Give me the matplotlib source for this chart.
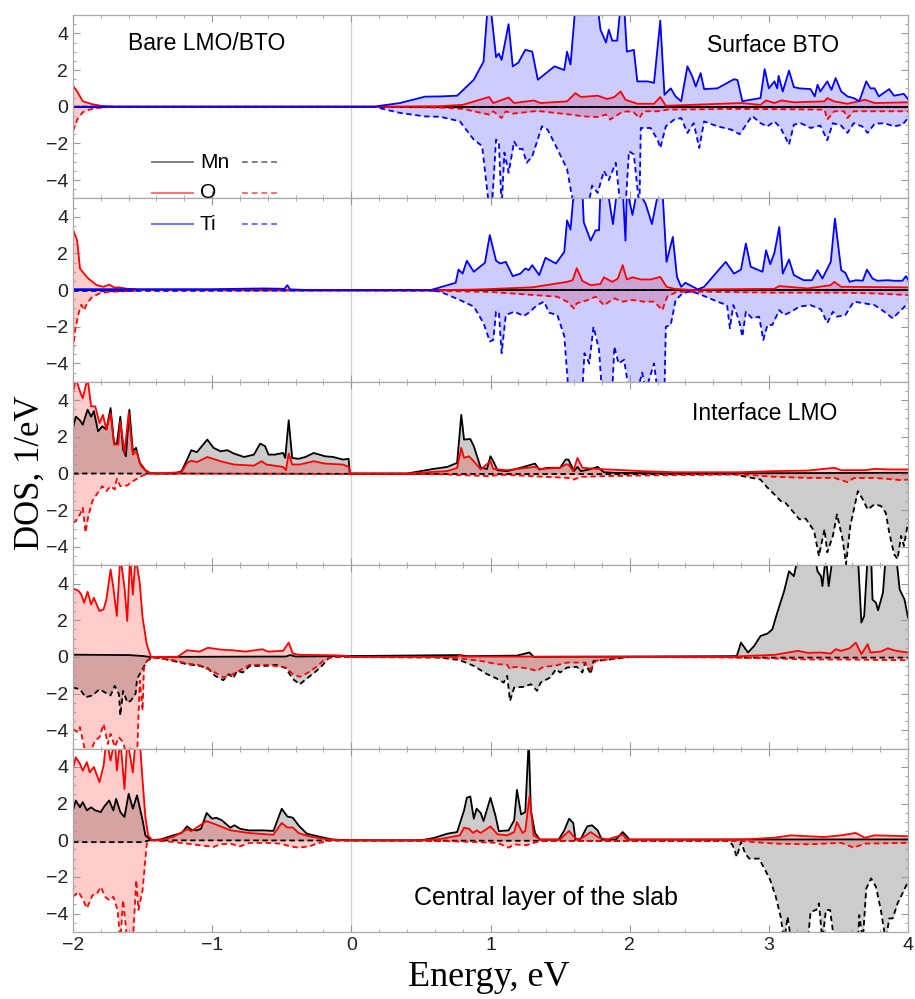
import matplotlib
matplotlib.use("Agg")
import matplotlib.pyplot as plt
from matplotlib.lines import Line2D
from matplotlib.ticker import MultipleLocator

# ---- Surface BTO (panel 1) ----
surf_mn = [(-2.0, 0.0), (4.0, 0.0)]
surf_o_up = [(-2.0, 1.14), (-1.97, 0.83), (-1.93, 0.3), (-1.87, 0.15), (-1.8, 0.05), (-1.7, 0.0), (0.16, 0.0),
             (0.64, 0.03), (0.8, 0.1), (0.99, 0.53), (1.02, 0.2), (1.13, 0.5), (1.17, 0.2), (1.31, 0.34),
             (1.36, 0.2), (1.55, 0.29), (1.61, 0.74), (1.65, 0.53), (1.77, 0.6), (1.84, 0.42), (1.89, 0.53),
             (1.935, 0.83), (1.97, 0.38), (2.055, 0.16), (2.175, 0.16), (2.22, 0.53), (2.26, 0.05), (2.44, 0.1),
             (2.8, 0.2), (2.94, 0.1), (2.98, 0.34), (3.04, 0.2), (3.09, 0.34), (3.18, 0.24), (3.4, 0.29),
             (3.42, 0.47), (3.47, 0.29), (3.565, 0.16), (3.69, 0.38), (3.76, 0.2), (4.0, 0.24)]
surf_o_dn = [(-2.0, -1.34), (-1.97, -0.7), (-1.93, -0.3), (-1.88, -0.15), (-1.8, -0.05), (-1.7, 0.0), (0.16, 0.0),
             (0.64, -0.05), (0.8, -0.12), (0.99, -0.43), (1.02, -0.25), (1.08, -0.62), (1.11, -0.25), (1.16, -0.38),
             (1.31, -0.25), (1.36, -0.25), (1.575, -0.43), (1.67, -0.53), (1.77, -0.56), (1.83, -0.43),
             (1.86, -0.7), (1.935, -0.34), (1.98, -0.25), (2.03, -0.31), (2.07, -0.62), (2.1, -0.25), (2.2, -0.25),
             (2.27, -0.16), (2.8, -0.12), (3.4, -0.16), (3.42, -0.7), (3.47, -0.25), (3.54, -0.25), (3.565, -0.62),
             (3.61, -0.25), (4.0, -0.25)]
surf_ti_up = [(-2.0, 0.0), (0.16, 0.0), (0.35, 0.2), (0.53, 0.55), (0.64, 0.56), (0.76, 0.6), (0.78, 0.74),
              (0.88, 1.47), (0.95, 2.46), (0.98, 5.5), (1.0, 5.5), (1.04, 2.7), (1.06, 2.9), (1.08, 2.55),
              (1.13, 4.5), (1.16, 2.2), (1.2, 2.4), (1.25, 3.1), (1.3, 3.0), (1.34, 1.47), (1.46, 2.2), (1.53, 2.0),
              (1.55, 3.0), (1.575, 2.3), (1.61, 5.5), (1.77, 5.5), (1.79, 4.2), (1.83, 3.5), (1.85, 4.2),
              (1.875, 3.6), (1.91, 3.6), (1.935, 5.5), (1.96, 5.5), (1.98, 3.0), (2.03, 3.1), (2.055, 1.38),
              (2.13, 1.38), (2.175, 1.3), (2.22, 4.7), (2.25, 0.65), (2.295, 1.0), (2.33, 0.56), (2.37, 0.3),
              (2.415, 2.2), (2.45, 1.65), (2.475, 1.1), (2.51, 1.83), (2.535, 0.96), (2.63, 1.0), (2.75, 1.5),
              (2.775, 1.45), (2.81, 0.3), (2.94, 0.47), (2.97, 2.05), (3.0, 1.0), (3.04, 1.38), (3.06, 1.0),
              (3.07, 1.68), (3.1, 0.83), (3.145, 1.97), (3.18, 1.07), (3.22, 1.0), (3.3, 0.96), (3.33, 0.56),
              (3.35, 1.2), (3.37, 0.83), (3.42, 1.38), (3.45, 0.92), (3.48, 1.56), (3.52, 0.83), (3.565, 0.56),
              (3.61, 0.47), (3.65, 0.3), (3.7, 1.38), (3.73, 1.0), (3.76, 1.0), (3.79, 0.56), (3.865, 0.96),
              (3.9, 0.6), (3.97, 0.7), (4.0, 0.42)]
surf_ti_dn = [(-2.0, 0.0), (0.16, 0.0), (0.35, -0.34), (0.53, -0.53), (0.64, -0.55), (0.78, -0.8), (0.88, -1.8),
              (0.94, -2.15), (0.99, -5.5), (1.01, -5.5), (1.04, -1.8), (1.06, -1.9), (1.08, -5.5), (1.1, -2.5),
              (1.13, -3.6), (1.17, -1.9), (1.2, -2.3), (1.23, -2.3), (1.26, -3.06), (1.3, -2.7), (1.37, -1.07),
              (1.41, -1.25), (1.47, -2.15), (1.55, -3.4), (1.6, -5.5), (1.7, -5.5), (1.73, -4.3), (1.77, -4.7),
              (1.815, -3.5), (1.85, -4.0), (1.9, -3.06), (1.935, -5.5), (1.97, -5.5), (1.995, -2.43), (2.03, -2.6),
              (2.07, -5.5), (2.08, -1.16), (2.15, -1.16), (2.2, -1.8), (2.22, -2.25), (2.26, -1.07), (2.32, -0.7),
              (2.37, -0.62), (2.415, -1.43), (2.46, -0.9), (2.5, -2.25), (2.535, -0.8), (2.63, -1.07),
              (2.73, -1.25), (2.79, -1.5), (2.88, -0.5), (2.94, -0.9), (2.99, -1.07), (3.04, -0.8), (3.085, -1.16),
              (3.145, -2.07), (3.18, -0.98), (3.23, -0.9), (3.3, -1.16), (3.37, -1.03), (3.42, -1.83), (3.46, -0.9),
              (3.52, -1.03), (3.565, -1.43), (3.61, -0.9), (3.67, -1.07), (3.71, -1.43), (3.76, -0.93),
              (3.83, -0.9), (3.9, -1.07), (3.96, -0.98), (4.0, -0.62)]

# ---- BTO layer below the surface (panel 2) ----
sub_mn = [(-2.0, 0.0), (4.0, 0.0)]
sub_o_up = [(-2.0, 3.3), (-1.97, 2.7), (-1.95, 1.18), (-1.91, 0.8), (-1.89, 0.63), (-1.86, 0.45), (-1.83, 0.27),
            (-1.78, 0.18), (-1.74, 0.3), (-1.7, 0.13), (-1.67, 0.15), (-1.61, 0.07), (-1.56, 0.05), (-1.52, 0.0),
            (0.64, 0.0), (0.9, 0.03), (1.3, 0.15), (1.55, 0.45), (1.59, 0.54), (1.62, 1.2), (1.66, 0.5),
            (1.72, 0.27), (1.79, 0.33), (1.815, 0.7), (1.875, 0.45), (1.915, 0.63), (1.95, 1.36), (1.98, 0.58),
            (2.02, 0.7), (2.08, 0.58), (2.15, 0.58), (2.22, 0.72), (2.265, 0.18), (2.32, 0.07), (2.46, 0.0),
            (2.56, 0.04), (3.04, 0.07), (3.075, 0.22), (3.28, 0.09), (3.445, 0.27), (3.47, 0.45), (3.52, 0.18),
            (4.0, 0.15)]
sub_o_dn = [(-2.0, -3.3), (-1.985, -2.2), (-1.96, -1.27), (-1.94, -0.8), (-1.92, -1.1), (-1.9, -0.72),
            (-1.86, -0.36), (-1.8, -0.15), (-1.72, -0.09), (-1.56, -0.04), (-1.52, 0.0), (0.64, -0.05), (1.0, -0.1),
            (1.48, -0.36), (1.55, -0.63), (1.6, -1.0), (1.62, -0.72), (1.7, -0.54), (1.755, -0.36), (1.815, -0.82),
            (1.89, -0.45), (1.95, -0.63), (2.02, -0.54), (2.1, -0.63), (2.175, -0.63), (2.235, -1.09),
            (2.27, -0.36), (2.34, -0.09), (2.56, -0.09), (3.04, -0.14), (3.52, -0.14), (3.76, -0.18), (4.0, -0.27)]
sub_ti_up = [(-2.0, 0.05), (-1.0, 0.05), (-0.63, 0.09), (-0.48, 0.07), (-0.46, 0.27), (-0.44, 0.04), (-0.3, 0.0),
             (0.57, 0.0), (0.75, 0.4), (0.77, 1.12), (0.8, 0.9), (0.83, 1.6), (0.88, 1.0), (0.96, 1.49),
             (0.995, 3.0), (1.04, 1.6), (1.07, 1.45), (1.11, 1.54), (1.16, 0.76), (1.215, 0.9), (1.25, 1.18),
             (1.275, 1.09), (1.3, 1.36), (1.35, 0.82), (1.395, 1.76), (1.47, 1.45), (1.53, 2.08), (1.55, 3.8),
             (1.575, 3.3), (1.6, 5.5), (1.66, 5.5), (1.67, 3.7), (1.72, 2.7), (1.755, 3.26), (1.78, 3.26),
             (1.79, 5.5), (1.84, 5.5), (1.88, 3.6), (1.91, 5.5), (1.95, 5.5), (1.97, 2.7), (1.98, 5.5), (2.02, 4.1),
             (2.055, 5.5), (2.115, 4.7), (2.16, 3.6), (2.21, 5.5), (2.235, 5.5), (2.265, 1.54), (2.31, 2.9),
             (2.34, 0.72), (2.37, 0.18), (2.4, 0.4), (2.49, 0.04), (2.535, 0.18), (2.69, 1.54), (2.75, 0.9),
             (2.8, 1.12), (2.835, 2.54), (2.87, 1.27), (2.955, 1.0), (2.98, 2.17), (3.01, 1.41), (3.04, 2.03),
             (3.075, 3.44), (3.1, 0.9), (3.145, 1.67), (3.18, 0.82), (3.25, 0.54), (3.31, 0.54), (3.35, 1.09),
             (3.385, 0.63), (3.445, 1.54), (3.475, 3.9), (3.52, 1.09), (3.55, 0.94), (3.58, 0.45), (3.625, 0.54),
             (3.675, 0.51), (3.705, 1.12), (3.745, 0.63), (3.78, 0.51), (3.855, 0.54), (3.9, 0.51), (3.96, 0.51),
             (3.985, 0.76), (4.0, 0.58)]
sub_ti_dn = [(-2.0, -0.05), (0.57, -0.02), (0.64, -0.09), (0.78, -0.54), (0.88, -0.9), (0.95, -1.8),
             (0.995, -2.8), (1.02, -2.72), (1.04, -1.18), (1.06, -1.18), (1.08, -3.44), (1.11, -1.36),
             (1.17, -1.18), (1.24, -1.41), (1.275, -1.23), (1.335, -0.82), (1.385, -0.63), (1.42, -1.23),
             (1.48, -1.36), (1.53, -2.5), (1.56, -5.5), (1.66, -5.5), (1.675, -3.44), (1.71, -4.0), (1.74, -2.0),
             (1.78, -3.26), (1.8, -5.5), (1.875, -5.5), (1.89, -3.08), (1.92, -4.0), (1.96, -3.8), (1.995, -5.5),
             (2.055, -5.5), (2.09, -4.5), (2.115, -5.5), (2.175, -4.0), (2.2, -5.5), (2.25, -5.5), (2.26, -2.0),
             (2.295, -1.9), (2.33, -0.54), (2.38, -0.18), (2.44, -0.05), (2.5, -0.22), (2.56, -0.4), (2.63, -0.63),
             (2.7, -0.82), (2.72, -2.08), (2.745, -0.82), (2.785, -1.63), (2.81, -2.54), (2.835, -1.18),
             (2.88, -1.54), (2.93, -1.45), (2.96, -2.72), (2.99, -1.9), (3.025, -1.9), (3.075, -1.09),
             (3.11, -1.36), (3.16, -1.18), (3.22, -0.9), (3.3, -0.82), (3.375, -1.05), (3.42, -1.8), (3.46, -1.18),
             (3.49, -1.45), (3.55, -1.36), (3.61, -0.63), (3.685, -0.72), (3.76, -0.82), (3.83, -1.18),
             (3.89, -1.54), (3.95, -1.09), (4.0, -0.72)]

# ---- Interface LMO (panel 3) ----
intf_mn_up = [(-2.0, 2.48), (-1.98, 3.1), (-1.95, 2.9), (-1.93, 2.66), (-1.895, 3.48), (-1.87, 3.1), (-1.85, 3.4),
              (-1.82, 2.3), (-1.79, 2.57), (-1.76, 2.4), (-1.73, 3.57), (-1.705, 1.67), (-1.685, 1.6),
              (-1.66, 3.1), (-1.64, 1.3), (-1.62, 0.94), (-1.595, 3.48), (-1.57, 1.21), (-1.547, 1.4),
              (-1.52, 0.58), (-1.48, 0.18), (-1.45, 0.04), (-1.4, 0.0), (-1.27, 0.0), (-1.22, 0.13), (-1.18, 0.76),
              (-1.15, 1.27), (-1.11, 1.16), (-1.035, 1.85), (-0.99, 1.4), (-0.94, 1.21), (-0.89, 1.27),
              (-0.845, 1.09), (-0.77, 0.9), (-0.7, 1.03), (-0.655, 1.63), (-0.62, 1.49), (-0.595, 1.03),
              (-0.55, 1.03), (-0.49, 1.12), (-0.475, 0.85), (-0.45, 2.9), (-0.425, 0.85), (-0.38, 0.8),
              (-0.33, 0.9), (-0.27, 1.12), (-0.19, 0.94), (-0.13, 0.9), (-0.06, 0.76), (-0.02, 0.8), (-0.01, 0.0),
              (0.4, 0.0), (0.59, 0.25), (0.69, 0.36), (0.76, 0.58), (0.79, 3.2), (0.81, 1.85), (0.855, 1.88),
              (0.88, 1.49), (0.93, 0.31), (0.975, 0.25), (1.0, 0.94), (1.02, 0.67), (1.05, 0.18), (1.12, 0.13),
              (1.215, 0.31), (1.32, 0.54), (1.35, 0.22), (1.41, 0.31), (1.5, 0.31), (1.54, 0.76), (1.56, 0.76),
              (1.6, 0.13), (1.625, 0.36), (1.65, 0.13), (1.71, 0.22), (1.77, 0.36), (1.815, 0.07), (1.89, 0.04),
              (2.3, 0.0), (4.0, 0.04)]
intf_mn_dn = [(-2.0, 0.0), (2.75, -0.04), (2.81, -0.14), (2.94, -0.33), (2.98, -0.69), (3.04, -1.14),
              (3.085, -1.5), (3.12, -1.6), (3.17, -2.05), (3.22, -2.5), (3.265, -2.46), (3.325, -3.13),
              (3.36, -4.5), (3.4, -3.04), (3.42, -4.3), (3.46, -3.4), (3.49, -2.23), (3.53, -3.6), (3.555, -4.95),
              (3.585, -2.86), (3.64, -0.96), (3.675, -1.41), (3.71, -1.96), (3.76, -1.68), (3.805, -1.77),
              (3.84, -2.14), (3.865, -3.22), (3.9, -4.4), (3.925, -4.67), (3.95, -3.4), (3.97, -3.95), (4.0, -2.68)]
intf_o_up = [(-2.0, 4.4), (-1.98, 5.2), (-1.95, 4.47), (-1.93, 4.1), (-1.895, 5.2), (-1.87, 3.66), (-1.84, 3.66),
             (-1.81, 2.75), (-1.785, 3.2), (-1.76, 2.4), (-1.73, 3.3), (-1.705, 1.58), (-1.675, 1.58),
             (-1.66, 2.84), (-1.63, 1.12), (-1.6, 3.3), (-1.57, 1.03), (-1.545, 1.21), (-1.51, 0.4), (-1.46, 0.04),
             (-1.4, 0.0), (-1.22, 0.07), (-1.18, 0.58), (-1.15, 0.7), (-1.11, 0.62), (-1.035, 0.9), (-0.94, 0.67),
             (-0.845, 0.49), (-0.7, 0.43), (-0.645, 0.67), (-0.61, 0.49), (-0.49, 0.36), (-0.47, 0.18),
             (-0.45, 1.09), (-0.425, 0.49), (-0.37, 0.49), (-0.27, 0.67), (-0.19, 0.54), (-0.06, 0.49),
             (-0.02, 0.36), (-0.01, 0.0), (0.4, 0.0), (0.69, 0.13), (0.76, 0.3), (0.79, 1.4), (0.81, 0.85),
             (0.845, 0.94), (0.88, 0.67), (0.93, 0.22), (1.0, 0.67), (1.02, 0.25), (1.12, 0.18), (1.32, 0.36),
             (1.36, 0.25), (1.5, 0.31), (1.54, 0.49), (1.56, 0.49), (1.595, 0.13), (1.625, 0.85), (1.66, 0.31),
             (1.77, 0.25), (1.84, 0.22), (1.96, 0.18), (2.08, 0.13), (2.32, 0.07), (2.8, 0.07), (3.04, 0.13),
             (3.28, 0.16), (3.47, 0.31), (3.52, 0.18), (3.69, 0.18), (3.76, 0.25), (3.88, 0.22), (4.0, 0.22)]
intf_o_dn = [(-2.0, -2.68), (-1.98, -2.6), (-1.95, -2.23), (-1.93, -1.87), (-1.91, -3.22), (-1.89, -2.32),
             (-1.86, -1.5), (-1.83, -1.14), (-1.79, -0.69), (-1.76, -0.96), (-1.73, -0.69), (-1.7, -0.87),
             (-1.685, -0.29), (-1.66, -0.69), (-1.61, -0.65), (-1.57, -0.42), (-1.55, -0.33), (-1.5, -0.11),
             (-1.46, -0.02), (-1.4, 0.0), (0.64, -0.04), (0.975, -0.14), (1.1, -0.07), (1.56, -0.24), (1.6, -0.33),
             (1.65, -0.18), (1.84, -0.14), (2.08, -0.11), (2.8, -0.05), (2.97, -0.14), (3.04, -0.18),
             (3.28, -0.24), (3.47, -0.24), (3.565, -0.47), (3.61, -0.25), (3.76, -0.24), (3.95, -0.36),
             (4.0, -0.33)]

# ---- LMO layer below the interface (panel 4) ----
lmo2_mn_up = [(-2.0, 0.12), (-1.6, 0.1), (-1.5, 0.05), (-1.45, 0.0), (-0.47, 0.02), (-0.44, 0.1), (-0.4, 0.02),
              (0.78, 0.1), (0.83, 0.04), (1.19, 0.07), (1.28, 0.24), (1.31, 0.0), (2.73, 0.04), (2.77, 0.05),
              (2.8, 0.78), (2.85, 0.24), (2.895, 0.6), (2.94, 1.14), (2.99, 1.27), (3.025, 1.5), (3.06, 2.4),
              (3.11, 3.59), (3.145, 4.67), (3.18, 4.4), (3.21, 5.5), (3.33, 5.5), (3.35, 4.67), (3.375, 4.4),
              (3.385, 3.86), (3.41, 5.5), (3.43, 3.86), (3.46, 5.5), (3.64, 5.5), (3.665, 1.87), (3.685, 2.23),
              (3.71, 5.5), (3.735, 5.5), (3.745, 3.13), (3.77, 2.95), (3.785, 2.54), (3.82, 3.5), (3.84, 5.5),
              (3.915, 5.5), (3.94, 3.68), (3.975, 3.13), (4.0, 2.14)]
lmo2_mn_dn = [(-2.0, -1.67), (-1.95, -1.76), (-1.91, -2.2), (-1.86, -2.1), (-1.81, -1.76), (-1.77, -1.94),
              (-1.73, -2.1), (-1.7, -1.58), (-1.67, -2.03), (-1.66, -3.2), (-1.64, -1.85), (-1.61, -2.48),
              (-1.585, -2.39), (-1.55, -2.0), (-1.54, -1.2), (-1.5, -0.67), (-1.47, -0.22), (-1.43, -0.04),
              (-1.37, -0.07), (-1.28, -0.22), (-1.18, -0.4), (-1.09, -0.49), (-1.03, -0.62), (-0.98, -1.03),
              (-0.92, -1.27), (-0.88, -0.94), (-0.85, -1.16), (-0.82, -0.76), (-0.78, -0.85), (-0.73, -0.49),
              (-0.61, -0.49), (-0.54, -0.43), (-0.47, -0.62), (-0.42, -1.21), (-0.37, -1.49), (-0.31, -1.12),
              (-0.25, -0.76), (-0.2, -0.4), (-0.16, -0.04), (-0.13, 0.0), (0.64, -0.04), (0.78, -0.18),
              (0.88, -0.49), (0.975, -0.94), (1.04, -1.16), (1.095, -1.4), (1.12, -1.03), (1.14, -2.4),
              (1.17, -1.67), (1.24, -1.63), (1.29, -1.49), (1.335, -1.85), (1.36, -1.4), (1.43, -1.12),
              (1.47, -0.67), (1.5, -0.85), (1.55, -0.58), (1.62, -0.54), (1.66, -0.85), (1.68, -0.31),
              (1.72, -0.94), (1.74, -0.22), (1.815, -0.18), (1.91, -0.09), (2.01, 0.0), (2.7, 0.0), (2.8, -0.04),
              (4.0, -0.04)]
lmo2_o_up = [(-2.0, 3.73), (-1.96, 3.6), (-1.94, 3.4), (-1.92, 2.95), (-1.895, 3.55), (-1.87, 2.86),
             (-1.85, 3.22), (-1.81, 2.5), (-1.78, 2.6), (-1.76, 3.13), (-1.73, 4.76), (-1.71, 3.77),
             (-1.685, 2.23), (-1.66, 5.5), (-1.63, 3.77), (-1.61, 1.96), (-1.59, 5.5), (-1.57, 3.4), (-1.55, 5.5),
             (-1.52, 4.0), (-1.5, 2.14), (-1.47, 0.69), (-1.44, 0.0), (-1.25, 0.0), (-1.18, 0.36), (-1.09, 0.29),
             (-1.03, 0.5), (-0.94, 0.4), (-0.85, 0.36), (-0.76, 0.29), (-0.64, 0.42), (-0.6, 0.29), (-0.49, 0.33),
             (-0.45, 0.78), (-0.42, 0.18), (-0.37, 0.11), (-0.13, 0.09), (-0.02, 0.05), (-0.01, 0.0), (0.76, 0.0),
             (0.78, 0.1), (0.8, 0.02), (2.73, 0.0), (2.8, 0.04), (3.04, 0.11), (3.14, 0.24), (3.21, 0.33),
             (3.28, 0.22), (3.375, 0.24), (3.445, 0.18), (3.48, 0.42), (3.52, 0.33), (3.58, 0.47), (3.625, 0.78),
             (3.665, 0.15), (3.71, 0.69), (3.73, 0.24), (3.805, 0.29), (3.855, 0.47), (3.9, 0.36), (3.95, 0.29),
             (4.0, 0.24)]
lmo2_o_dn = [(-2.0, -3.93), (-1.97, -4.1), (-1.95, -3.83), (-1.92, -4.9), (-1.895, -5.5), (-1.84, -4.56),
             (-1.81, -4.38), (-1.78, -3.66), (-1.75, -4.75), (-1.73, -4.2), (-1.7, -4.9), (-1.67, -4.38),
             (-1.64, -4.65), (-1.61, -5.5), (-1.58, -5.0), (-1.54, -5.5), (-1.52, -1.3), (-1.5, -2.93),
             (-1.49, -0.58), (-1.47, -0.22), (-1.43, -0.04), (-1.28, -0.18), (-1.18, -0.36), (-1.09, -0.45),
             (-0.98, -0.85), (-0.92, -1.12), (-0.85, -0.94), (-0.73, -0.43), (-0.61, -0.43), (-0.47, -0.58),
             (-0.42, -0.94), (-0.37, -1.09), (-0.31, -0.85), (-0.25, -0.54), (-0.19, -0.13), (-0.13, 0.0),
             (0.64, 0.0), (0.78, -0.09), (0.93, -0.22), (1.05, -0.4), (1.12, -0.43), (1.14, -0.67), (1.17, -0.54),
             (1.26, -0.62), (1.335, -0.76), (1.38, -0.54), (1.46, -0.49), (1.55, -0.31), (1.67, -0.31),
             (1.72, -0.67), (1.755, -0.22), (1.935, -0.04), (2.01, 0.0), (2.8, -0.04), (3.28, -0.14),
             (3.52, -0.14), (4.0, -0.18)]

# ---- Central layer of the slab (panel 5) ----
cent_mn_up = [(-2.0, 1.63), (-1.98, 2.17), (-1.95, 1.8), (-1.93, 2.08), (-1.9, 1.63), (-1.87, 1.8), (-1.84, 1.63),
              (-1.8, 1.54), (-1.78, 1.8), (-1.74, 2.17), (-1.71, 1.63), (-1.69, 2.26), (-1.66, 1.54),
              (-1.63, 1.27), (-1.6, 2.54), (-1.57, 1.72), (-1.54, 2.45), (-1.5, 1.09), (-1.48, 0.27), (-1.44, 0.0),
              (-1.37, 0.05), (-1.28, 0.27), (-1.22, 0.4), (-1.18, 0.76), (-1.15, 0.58), (-1.11, 0.54),
              (-1.08, 0.63), (-1.04, 1.49), (-1.0, 1.18), (-0.97, 1.23), (-0.93, 1.09), (-0.87, 0.69),
              (-0.84, 0.82), (-0.8, 0.63), (-0.74, 0.54), (-0.63, 0.54), (-0.56, 0.51), (-0.5, 1.72), (-0.46, 1.3),
              (-0.42, 1.23), (-0.38, 0.82), (-0.32, 0.36), (-0.22, 0.18), (-0.13, 0.04), (-0.01, 0.0), (0.5, 0.0),
              (0.59, 0.12), (0.69, 0.36), (0.76, 0.45), (0.81, 1.63), (0.83, 2.32), (0.855, 2.39), (0.88, 1.18),
              (0.9, 1.72), (0.93, 1.49), (0.95, 1.05), (1.0, 2.32), (1.035, 1.36), (1.06, 0.5), (1.13, 0.54),
              (1.17, 1.09), (1.19, 2.75), (1.22, 1.41), (1.25, 1.54), (1.275, 5.5), (1.29, 1.63), (1.32, 0.4),
              (1.355, 0.04), (1.49, 0.04), (1.53, 0.54), (1.565, 1.18), (1.595, 0.94), (1.61, 0.04), (1.65, 0.09),
              (1.695, 0.76), (1.73, 0.82), (1.77, 0.54), (1.8, 0.04), (1.9, 0.04), (1.95, 0.45), (2.0, 0.04),
              (4.0, 0.05)]
cent_mn_dn = [(-2.0, -0.1), (-1.5, -0.1), (-1.45, 0.0), (2.715, -0.04), (2.74, -0.27), (2.77, -0.9), (2.8, -0.09),
              (2.83, -0.72), (2.86, -1.0), (2.93, -1.0), (2.98, -1.72), (3.01, -2.17), (3.05, -3.08),
              (3.085, -4.17), (3.11, -5.5), (3.135, -4.17), (3.16, -5.5), (3.28, -5.5), (3.3, -3.9), (3.34, -3.8),
              (3.36, -3.44), (3.385, -5.5), (3.41, -3.8), (3.44, -3.8), (3.47, -5.5), (3.64, -5.5), (3.65, -4.08),
              (3.675, -5.5), (3.7, -2.63), (3.735, -2.08), (3.77, -2.54), (3.805, -3.8), (3.84, -5.5),
              (3.865, -4.26), (3.89, -4.26), (3.925, -3.44), (3.96, -2.9), (4.0, -2.26)]
cent_o_up = [(-2.0, 3.9), (-1.98, 4.53), (-1.95, 4.17), (-1.93, 3.8), (-1.9, 4.26), (-1.88, 3.7), (-1.85, 4.0),
             (-1.81, 3.17), (-1.78, 4.08), (-1.76, 5.5), (-1.73, 4.35), (-1.7, 5.5), (-1.685, 3.8), (-1.66, 5.5),
             (-1.63, 2.8), (-1.61, 5.5), (-1.57, 3.7), (-1.55, 5.5), (-1.52, 5.4), (-1.5, 3.26), (-1.48, 1.27),
             (-1.46, 0.27), (-1.43, 0.0), (-1.37, 0.02), (-1.28, 0.18), (-1.18, 0.6), (-1.15, 0.5), (-1.04, 1.05),
             (-0.97, 0.85), (-0.87, 0.55), (-0.74, 0.4), (-0.56, 0.3), (-0.5, 0.95), (-0.46, 0.7), (-0.42, 0.7),
             (-0.38, 0.4), (-0.32, 0.25), (-0.2, 0.08), (-0.1, 0.0), (0.5, 0.0), (0.64, 0.07), (0.78, 0.27),
             (0.81, 0.69), (0.845, 0.63), (0.875, 0.4), (0.9, 0.54), (0.93, 0.4), (1.0, 0.76), (1.05, 0.33),
             (1.12, 0.27), (1.17, 0.45), (1.19, 1.0), (1.23, 0.4), (1.25, 0.51), (1.28, 2.39), (1.31, 0.27),
             (1.36, 0.04), (1.5, 0.04), (1.53, 0.27), (1.565, 0.51), (1.595, 0.22), (1.625, 0.04), (1.67, 0.18),
             (1.72, 0.45), (1.78, 0.14), (1.84, 0.04), (1.95, 0.31), (1.98, 0.04), (2.8, 0.04), (3.04, 0.14),
             (3.16, 0.27), (3.28, 0.22), (3.4, 0.18), (3.52, 0.27), (3.625, 0.4), (3.69, 0.14), (3.76, 0.27),
             (4.0, 0.22)]
cent_o_dn = [(-2.0, -3.08), (-1.96, -2.81), (-1.93, -3.22), (-1.9, -3.7), (-1.86, -2.99), (-1.83, -2.94),
             (-1.8, -2.54), (-1.77, -3.08), (-1.74, -3.26), (-1.71, -3.08), (-1.68, -3.8), (-1.66, -5.5),
             (-1.64, -3.26), (-1.61, -5.5), (-1.57, -5.5), (-1.545, -2.17), (-1.53, -3.8), (-1.5, -2.72),
             (-1.47, -0.18), (-1.445, 0.0), (-1.37, -0.04), (-1.28, -0.09), (-1.18, -0.18), (-1.09, -0.27),
             (-0.99, -0.36), (-0.94, -0.22), (-0.87, -0.18), (-0.8, -0.33), (-0.73, -0.14), (-0.61, -0.14),
             (-0.51, -0.18), (-0.44, -0.33), (-0.38, -0.4), (-0.3, -0.33), (-0.25, -0.18), (-0.17, -0.04),
             (-0.13, 0.0), (0.64, -0.04), (0.88, -0.09), (1.05, -0.14), (1.13, -0.4), (1.17, -0.22), (1.26, -0.27),
             (1.31, -0.14), (1.36, -0.04), (2.8, -0.04), (3.04, -0.18), (3.28, -0.22), (3.52, -0.14), (3.61, -0.4),
             (3.69, -0.18), (4.0, -0.14)]

panel_titles = ["Surface BTO", "", "Interface LMO", "", "Central layer of the slab"]
species = ["Mn", "O", "Ti"]

panels = [
    {"Mn": (surf_mn, surf_mn), "O": (surf_o_up, surf_o_dn), "Ti": (surf_ti_up, surf_ti_dn)},
    {"Mn": (sub_mn, sub_mn), "O": (sub_o_up, sub_o_dn), "Ti": (sub_ti_up, sub_ti_dn)},
    {"Mn": (intf_mn_up, intf_mn_dn), "O": (intf_o_up, intf_o_dn)},
    {"Mn": (lmo2_mn_up, lmo2_mn_dn), "O": (lmo2_o_up, lmo2_o_dn)},
    {"Mn": (cent_mn_up, cent_mn_dn), "O": (cent_o_up, cent_o_dn)},
]

line_col = {"Mn": "black", "O": "#ff0000", "Ti": "#0000ff"}
legend_col = {"Mn": "#808080", "O": "#ff7070", "Ti": "#7070ff"}
dash = (0, (3, 2))

plt.rcParams["font.family"] = "Liberation Sans"

W, H = 915, 999
fig = plt.figure(figsize=(W / 100, H / 100), dpi=100)

left, right, top, bottom = 73, 908, 15, 932
ph = (bottom - top) / 5.0
axes = []
for i in range(5):
    y0 = 1 - (top + (i + 1) * ph) / H
    ax = fig.add_axes([left / W, y0, (right - left) / W, ph / H])
    axes.append(ax)

for i, ax in enumerate(axes):
    ax.axvline(0, color="#d0d0d0", lw=0.9, zorder=0)
    for sp in species:
        if sp not in panels[i]:
            continue
        up, dn = panels[i][sp]
        for pts, ls in ((up, "-"), (dn, dash)):
            xs = [p[0] for p in pts]
            ys = [p[1] for p in pts]
            ax.fill_between(xs, ys, 0, color=line_col[sp], alpha=0.2, lw=0)
            ax.plot(xs, ys, color=line_col[sp], lw=1.3, linestyle=ls)
    ax.set_xlim(-2, 4)
    ax.set_ylim(-5, 5)
    ax.xaxis.set_major_locator(MultipleLocator(1))
    ax.xaxis.set_minor_locator(MultipleLocator(0.2))
    ax.yaxis.set_major_locator(MultipleLocator(2))
    ax.yaxis.set_minor_locator(MultipleLocator(0.5))
    ax.tick_params(which="both", direction="in", top=True, right=True, color="#999999",
                   labelsize=14, labelcolor="#222222")
    ax.tick_params(which="major", length=5, width=0.8)
    ax.tick_params(which="minor", length=2.5, width=0.6)
    for s in ax.spines.values():
        s.set_color("#aaaaaa")
        s.set_linewidth(0.9)
    if i < 4:
        ax.tick_params(labelbottom=False)
    ax.set_yticks([-4, -2, 0, 2, 4])
    ax.set_yticklabels(["\u22124", "\u22122", "0", "2", "4"])

axes[4].set_xticks([-2, -1, 0, 1, 2, 3, 4])
axes[4].set_xticklabels(["\u22122", "\u22121", "0", "1", "2", "3", "4"])

# panel labels
fig.text(207 / W, 1 - 43 / H, "Bare LMO/BTO", fontsize=16.5, ha="center", va="center")
fig.text(773 / W, 1 - 45 / H, panel_titles[0], fontsize=16.5, ha="center", va="center")
fig.text(765 / W, 1 - 413 / H, panel_titles[2], fontsize=16.5, ha="center", va="center")
fig.text(546 / W, 1 - 898 / H, panel_titles[4], fontsize=18, ha="center", va="center")

# legend drawn over panels 1 and 2
for k, sp in enumerate(species):
    yy = 1 - (162 + k * 31) / H
    fig.add_artist(Line2D([152 / W, 193 / W], [yy, yy], color=legend_col[sp], lw=1.4))
    fig.add_artist(Line2D([242 / W, 281 / W], [yy, yy], color=legend_col[sp], lw=1.4, linestyle=dash))
    fig.text(200 / W, yy, sp, fontsize=15, va="center", ha="left")

fig.text(30 / W, 1 - 473 / H, "DOS, 1/eV", family="Liberation Serif", fontsize=25,
         rotation=90, ha="center", va="center")
fig.text(489 / W, 1 - 978 / H, "Energy, eV", family="Liberation Serif", fontsize=26,
         ha="center", va="center")

fig.savefig("out.png", dpi=100)
